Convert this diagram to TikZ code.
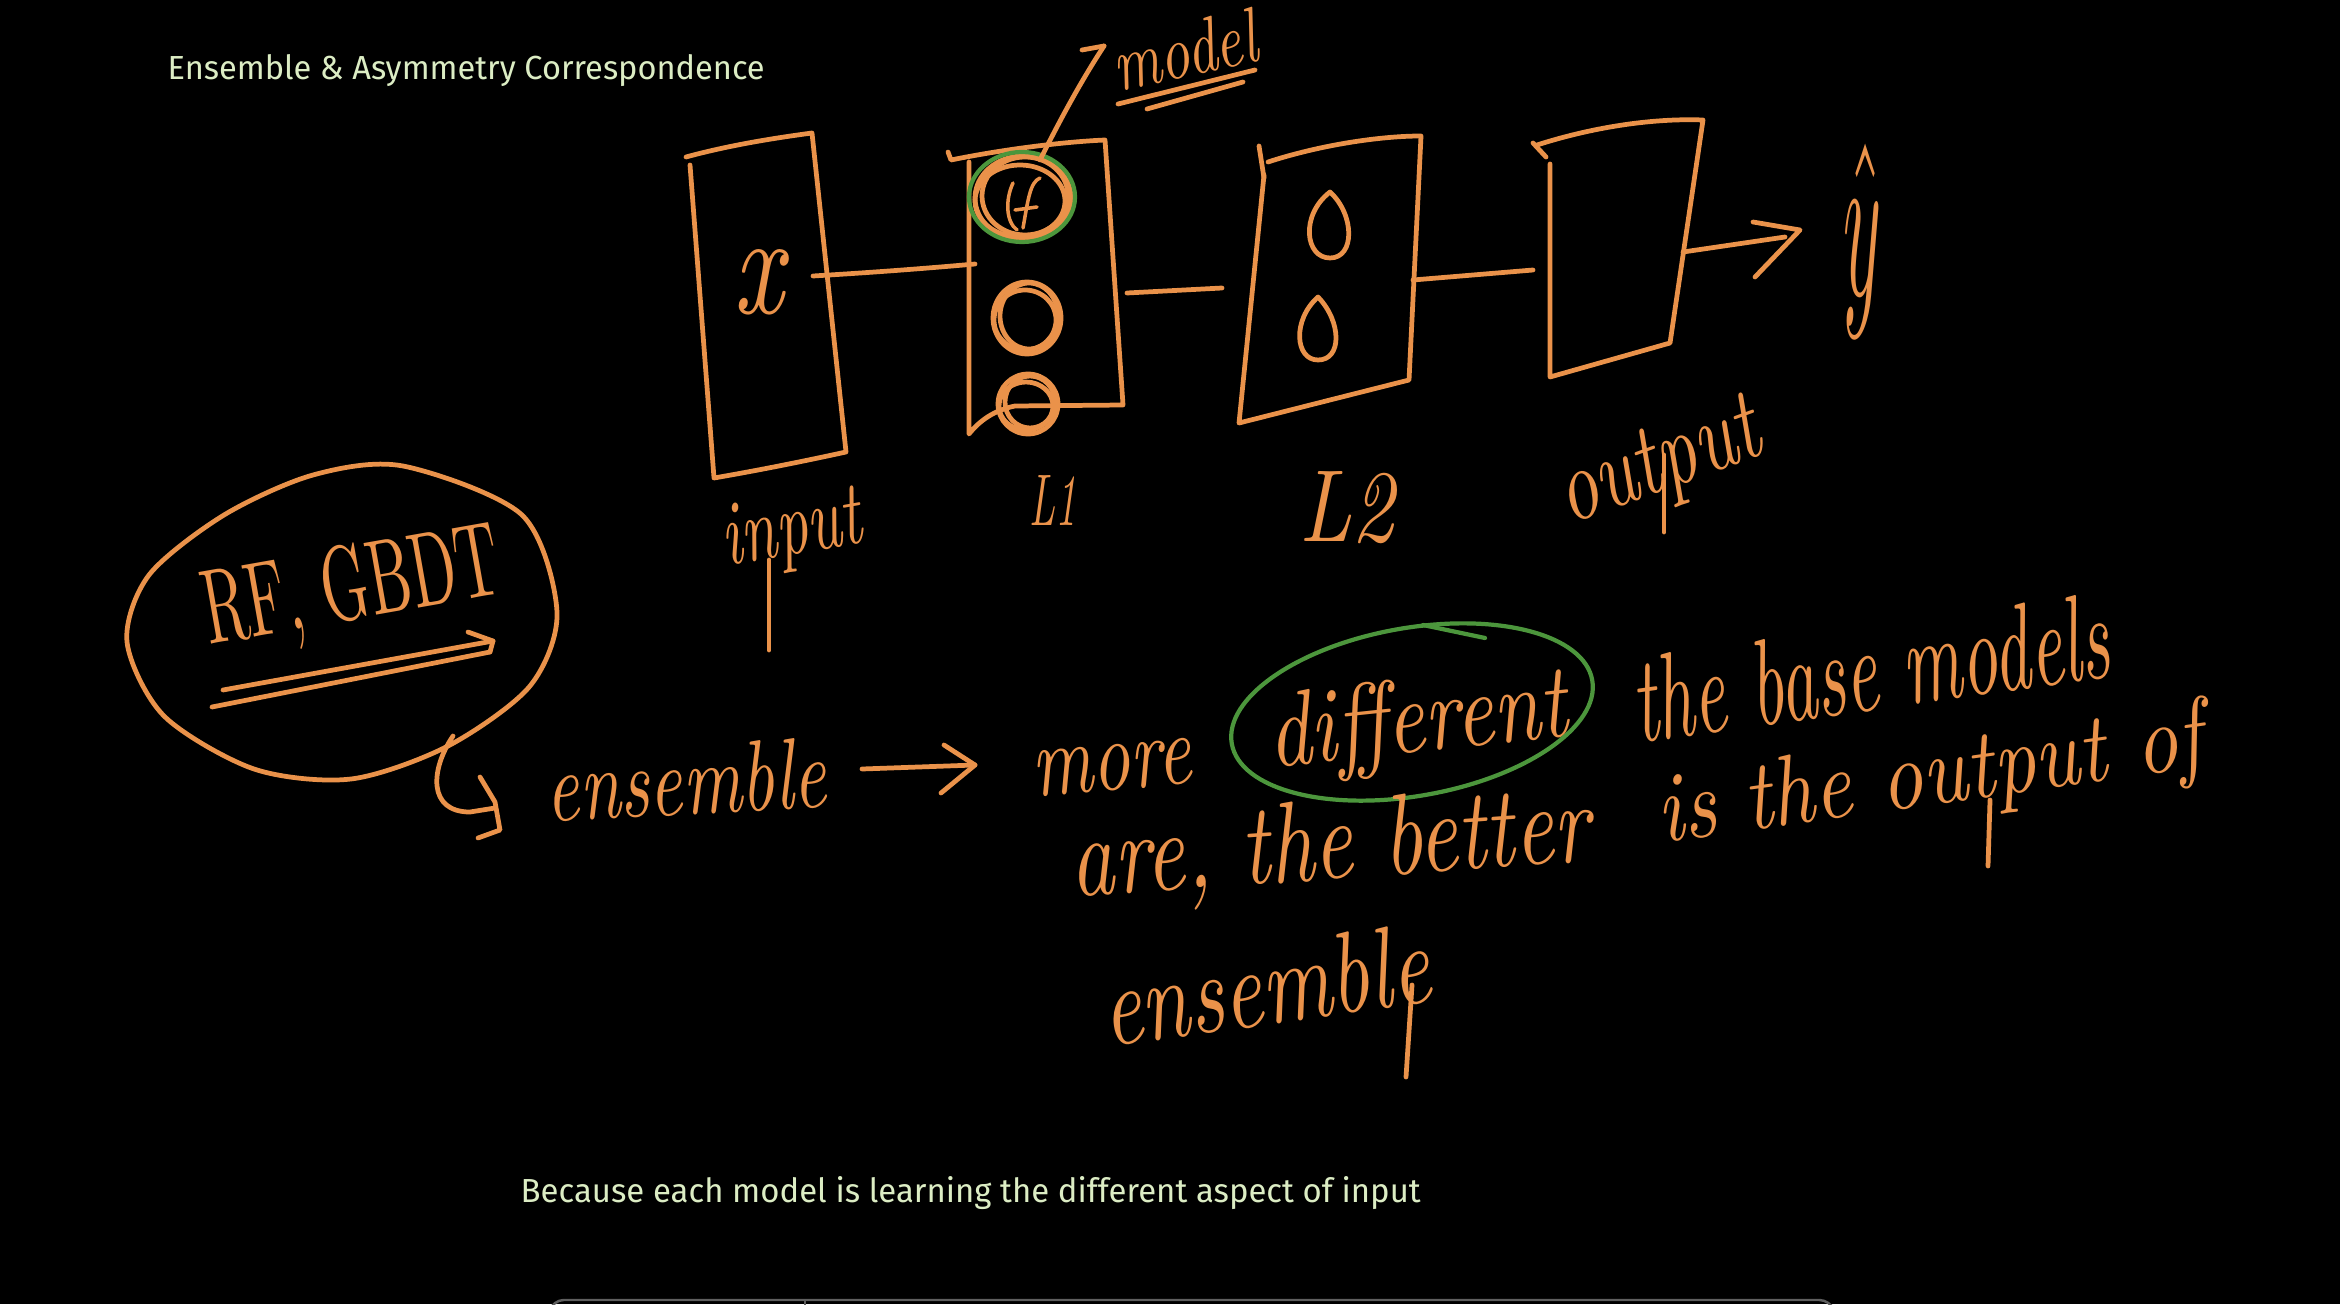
\documentclass[tikz,border=0pt]{standalone}
\usepackage{fontspec}
\usepackage{graphicx}
\setsansfont{Fira Sans}
\definecolor{chalk}{RGB}{234,146,74}
\definecolor{mark}{RGB}{76,150,60}
\definecolor{captc}{RGB}{220,237,196}
\definecolor{barc}{RGB}{95,95,95}
\begin{document}
\begin{tikzpicture}[x=0.1mm,y=-0.1mm,
  pen/.style={draw=chalk, line width=1.35pt, line cap=round, line join=round},
  thinpen/.style={draw=chalk, line width=1pt, line cap=round, line join=round},
  gpen/.style={draw=mark, line width=1.2pt, line cap=round},
  hw/.style={text=chalk, inner sep=0pt, font=\itshape},
  hwup/.style={text=chalk, inner sep=0pt, font=\upshape},
  captxt/.style={text=captc, inner sep=0pt, font=\sffamily, anchor=base west}]
% background and page size
\fill[black] (0,0) rectangle (2340,1304);
\useasboundingbox (0,0) rectangle (2340,1304);

% captions
\node[captxt] (title) at (167,80) {\resizebox{59.7mm}{2.5mm}{Ensemble \& Asymmetry Correspondence}};
\node[captxt] (note) at (520,1202) {\resizebox{90mm}{2.6mm}{Because each model is learning the different aspect of input}};

% bottom player bar
\draw[barc, line width=0.7pt, rounded corners=3pt] (550,1310) -- (553,1300) -- (1830,1300) -- (1834,1310);
\draw[barc, line width=0.7pt] (805,1300) -- (805,1306);

% ---------- network ----------
% input box
\draw[pen] (686,157) .. controls (730,145) and (775,138) .. (812,133)
  -- (846,452) .. controls (800,462) and (760,470) .. (714,478)
  -- (690,165);
% L1 box
\draw[pen] (948,152) -- (951,160) .. controls (1000,150) and (1060,142) .. (1105,140)
  -- (1123,405) -- (1015,406) .. controls (995,410) and (980,420) .. (969,434) -- (969,162);
% L2 box
\draw[pen] (1259,146) -- (1264,178);
\draw[pen] (1268,162) .. controls (1320,145) and (1380,136) .. (1421,136)
  -- (1409,380) -- (1239,423) -- (1264,175);
% output box
\draw[pen] (1533,143) -- (1546,157);
\draw[pen] (1537,145) .. controls (1590,128) and (1650,118) .. (1703,120)
  -- (1670,343) -- (1550,377) -- (1550,164);

% neurons in L1 (scribbled)
\draw[pen] (1023,198) ellipse [x radius=48, y radius=42];
\draw[pen] (1025,196) ellipse [x radius=43, y radius=39];
\draw[pen] (1020,201) ellipse [x radius=45, y radius=36];
\draw[thinpen] (1013,183) .. controls (1005,200) and (1006,222) .. (1017,230);
\draw[thinpen] (1040,178) .. controls (1030,182) and (1028,200) .. (1023,228);
\draw[thinpen] (1015,210) -- (1037,207);
\draw[gpen] (1022,197) ellipse [x radius=53, y radius=45];
\draw[pen] (1027,318) ellipse [x radius=34, y radius=36];
\draw[pen] (1029,316) ellipse [x radius=29, y radius=33];
\draw[pen] (1025,320) ellipse [x radius=31, y radius=30];
\draw[pen] (1028,404) ellipse [x radius=30, y radius=30];
\draw[pen] (1030,402) ellipse [x radius=25, y radius=26];
\draw[pen] (1026,406) ellipse [x radius=27, y radius=24];
% neurons in L2
\draw[pen] (1330,192) .. controls (1300,215) and (1305,258) .. (1330,258)
  .. controls (1355,258) and (1355,215) .. (1330,192);
\draw[pen] (1318,297) .. controls (1292,320) and (1295,360) .. (1318,360)
  .. controls (1342,360) and (1342,322) .. (1318,297);

% connectors
\coordinate (inR) at (813,276);
\coordinate (l1L) at (975,264);
\coordinate (l1R) at (1127,293);
\coordinate (l2L) at (1222,288);
\coordinate (l2R) at (1413,280);
\coordinate (outL) at (1533,270);
\coordinate (outR) at (1683,252);
\coordinate (yhatL) at (1800,230);
\draw[pen] (inR) .. controls (880,272) and (930,268) .. (l1L);
\draw[pen] (l1R) -- (l2L);
\draw[pen] (l2R) -- (outL);
\draw[pen] (outR) -- (1785,237);
\draw[pen] (1753,222) -- (yhatL) -- (1755,277);
\node[hw] (yhat) at (1862,241) {\resizebox*{3.8mm}{19.4mm}{$\hat{y}$}};

% model pointer
\node[hw, rotate=12] (model) at (1184,50) {\resizebox{14.5mm}{5.4mm}{model}};
\coordinate (mtip) at (1104,46);
\draw[pen] (1040,160) .. controls (1065,110) and (1085,75) .. (mtip);
\draw[pen] (1082,50) -- (mtip);
\draw[pen] (1118,104) -- (1255,70);
\draw[pen] (1147,109) -- (1243,82);

% labels
\node[hw] (xl) at (758,282) {\resizebox{5mm}{6.4mm}{x}};
\node[hw, rotate=10] (inp) at (792,533) {\resizebox{14mm}{6mm}{input}};
\draw[pen] (769,560) -- (769,650);
\node[hw] (l1) at (1053,500) {\resizebox{4.7mm}{5mm}{L1}};
\node[hw] (l2) at (1347,508) {\resizebox{9.5mm}{7mm}{L2}};
\node[hw, rotate=20] (outlab) at (1660,468) {\resizebox{21mm}{6.5mm}{output}};
\draw[pen] (1664,455) -- (1664,532);

% RF, GBDT bubble
\node[hwup, rotate=10] (rf) at (352,592) {\resizebox{30mm}{7.5mm}{RF, GBDT}};
\draw[pen] plot[smooth cycle] coordinates {(403,466) (522,515) (557,612) (530,686) (448,746) (351,779) (254,769) (164,716) (127,642) (149,575) (224,515) (313,475)};
\draw[pen] (223,690) -- (493,641);
\draw[pen] (468,632) -- (493,641) -- (490,652);
\draw[pen] (490,652) -- (212,707);
% hook arrow to ensemble
\draw[pen] (453,736) .. controls (430,770) and (428,812) .. (470,812) -- (495,808);
\draw[pen] (480,777) -- (495,802) -- (500,830) -- (478,838);

% sentence
\node[hw, rotate=3] (ens) at (686,780) {\resizebox{28mm}{7mm}{ensemble}};
\coordinate (arS) at (862,769);
\coordinate (arE) at (975,765);
\draw[pen] (arS) -- (arE);
\draw[pen] (944,745) -- (arE) -- (941,793);
\node[hw, rotate=5] (more) at (1112,768) {\resizebox{16mm}{4.5mm}{more}};
\node[hw, rotate=6] (diff) at (1418,725) {\resizebox{30mm}{7.5mm}{different}};
\draw[gpen, rotate around={10:(1412,712)}] (1412,712) ellipse [x radius=183, y radius=84];
\draw[gpen] (1423,625) -- (1485,638);
\node[hw, rotate=8] (base) at (1870,668) {\resizebox{48mm}{8.5mm}{the base models}};
\node[hw, rotate=4] (are) at (1330,850) {\resizebox{52mm}{8mm}{are, the better}};
\node[hw, rotate=8] (isthe) at (1930,780) {\resizebox{55mm}{7mm}{is the output of}};
\draw[pen] (1990,800) -- (1988,866);
\node[hw, rotate=8] (ens2) at (1265,985) {\resizebox{33mm}{8mm}{ensemble}};
\draw[pen] (1412,985) -- (1406,1077);
\end{tikzpicture}
\end{document}
